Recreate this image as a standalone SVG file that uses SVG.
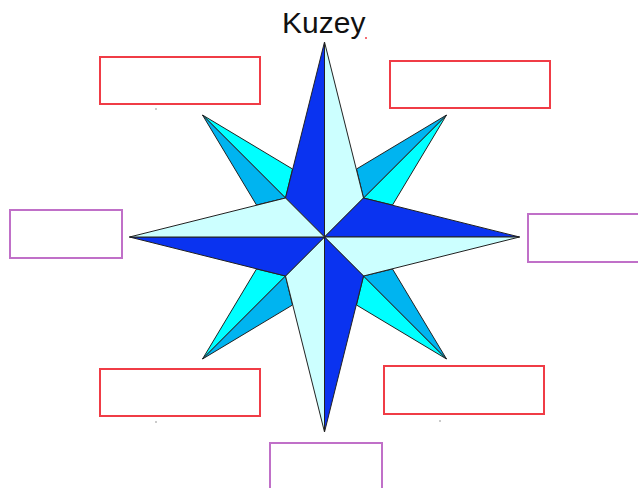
<svg xmlns="http://www.w3.org/2000/svg" xmlns:xlink="http://www.w3.org/1999/xlink" width="638" height="488" viewBox="0 0 638 488">
<style>
.edge{stroke:#222;stroke-width:1;stroke-linejoin:round}
.dark{fill:#0A33F0}
.pale{fill:#CCFFFF}
.cyan{fill:#00FFFF}
.mid{fill:#00B4F0}
.red{fill:#fff;stroke:#F03C46;stroke-width:2}
.pur{fill:#fff;stroke:#C070C8;stroke-width:2}
.title{font-family:"Liberation Sans",Arial,sans-serif;font-size:30px;fill:#111}
.dot{fill:#888}
</style>
<defs>
<g id="diag">
<polygon class="edge cyan" points="-122,-122 -32,-68 -39,-39"/>
<polygon class="edge mid" points="-122,-122 -39,-39 -68,-32"/>
</g>
<g id="arm">
<polygon class="edge dark" points="0,-195 -39,-39 0,0"/>
<polygon class="edge pale" points="0,-195 0,0 39,-39"/>
</g>
</defs>
<rect width="638" height="488" fill="#fff"/>
<g id="compass" transform="translate(324.5,237)">
<use xlink:href="#diag"/>
<use xlink:href="#diag" transform="rotate(90)"/>
<use xlink:href="#diag" transform="rotate(180)"/>
<use xlink:href="#diag" transform="rotate(270)"/>
<use xlink:href="#arm"/>
<use xlink:href="#arm" transform="rotate(90)"/>
<use xlink:href="#arm" transform="rotate(180)"/>
<use xlink:href="#arm" transform="rotate(270)"/>
</g>
<g id="title"><text class="title" x="282" y="33">Kuzey</text><circle cx="366" cy="38" r="1" fill="#F03C46"/></g>
<g id="box-nw"><rect class="red" x="100" y="57" width="160" height="47"/><circle class="dot" cx="156" cy="109" r="0.8"/></g>
<g id="box-ne"><rect class="red" x="390" y="61" width="160" height="47"/></g>
<g id="box-w"><rect class="pur" x="10" y="210" width="112" height="48"/></g>
<g id="box-e"><rect class="pur" x="528" y="214" width="120" height="48"/></g>
<g id="box-sw"><rect class="red" x="100" y="369" width="160" height="47"/><circle class="dot" cx="156" cy="422" r="0.8"/></g>
<g id="box-se"><rect class="red" x="384" y="366" width="160" height="48"/><circle class="dot" cx="440" cy="421" r="0.8"/></g>
<g id="box-s"><rect class="pur" x="270" y="443" width="112" height="55"/></g>
<g id="connectors"/>
</svg>
